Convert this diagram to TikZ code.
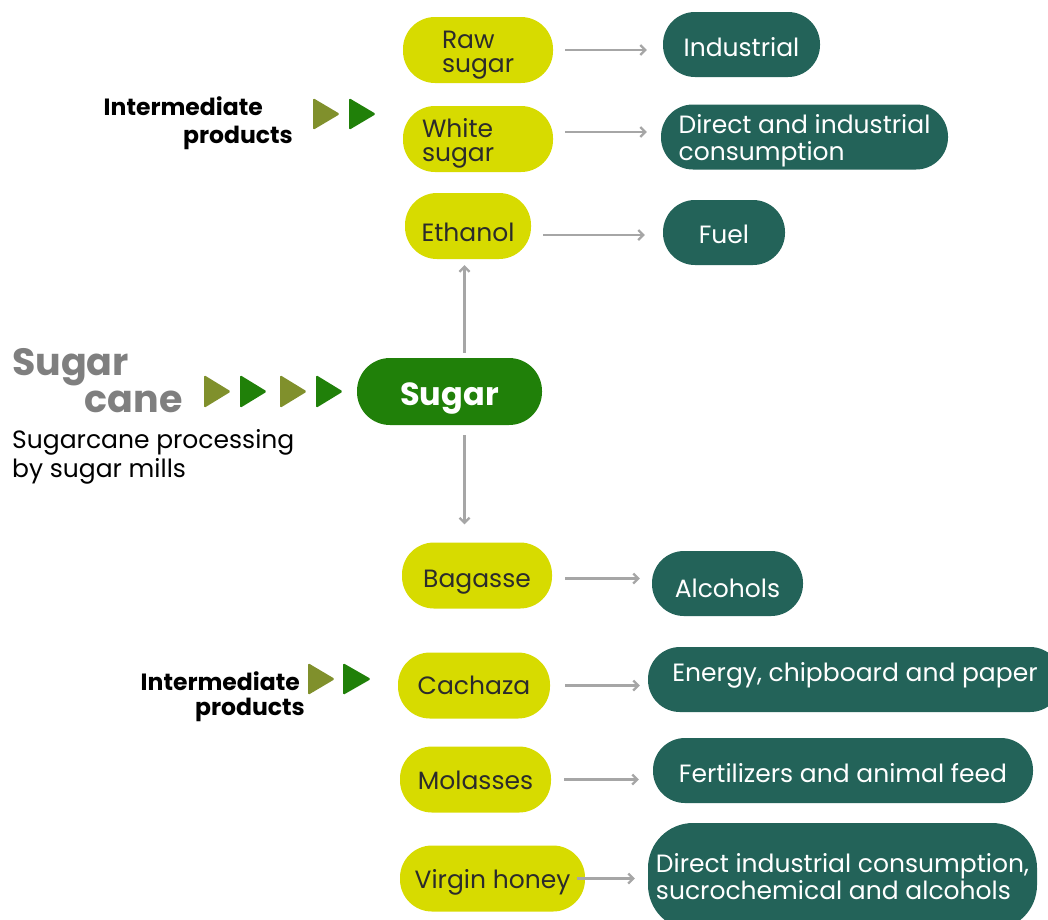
\documentclass[tikz,border=0pt]{standalone}
\usepackage{fontspec}
\setmainfont{Poppins}
\usetikzlibrary{arrows.meta}

\definecolor{prodyellow}{HTML}{D7DB00}
\definecolor{useteal}{HTML}{236359}
\definecolor{sugargreen}{HTML}{208009}
\definecolor{triolive}{HTML}{80902C}
\definecolor{canegray}{HTML}{7F7F7F}
\definecolor{linegray}{HTML}{A6A6A6}
\definecolor{textdark}{HTML}{2B2B2B}

\begin{document}
\begin{tikzpicture}[x=1pt,y=-1pt,
	prod/.style={rectangle, rounded corners=32pt, fill=prodyellow, text=textdark,
		minimum height=66pt, inner sep=0pt, align=left,
		font=\fontsize{25}{24}\selectfont},
	use/.style={rectangle, rounded corners=32pt, fill=useteal, text=white,
		minimum height=65pt, inner sep=0pt, align=left,
		font=\fontsize{25}{27}\selectfont},
	capline/.style={text height=#1, text depth=0pt},
	link/.style={draw=linegray, line width=2.2pt,
		-{Straight Barb[length=5pt,width=10pt]},
		shorten <=13pt, shorten >=14pt},
	label/.style={inner sep=0pt, text=black, font=\bfseries\fontsize{23.5}{23.5}\selectfont}]
	
	% Fix the frame of the picture
	\useasboundingbox (0,0) rectangle (1048,919);
	\clip (0,0) rectangle (1048,919);
	
	% Sugar cane on the left
	\node[anchor=base west, inner sep=0pt, text=canegray,
		font=\bfseries\fontsize{38}{38}\selectfont] (sugarword) at (12,375) {Sugar};
	\node[anchor=base east, inner sep=0pt, text=canegray,
		font=\bfseries\fontsize{38}{38}\selectfont] (caneword) at (183,412) {cane};
	\node[anchor=north west, inner sep=0pt, align=left,
		font=\fontsize{25}{29}\selectfont] (mills) at (12,429) {Sugarcane processing\\by sugar mills};
	
	% Triangles towards the sugar mill
	\fill[triolive, rounded corners=1.5pt] (204,375) -- (231,391.5) -- (204,408) -- cycle;
	\fill[sugargreen, rounded corners=1.5pt] (240,375) -- (267,391.5) -- (240,408) -- cycle;
	\fill[triolive, rounded corners=1.5pt] (280,375) -- (307,391.5) -- (280,408) -- cycle;
	\fill[sugargreen, rounded corners=1.5pt] (316,375) -- (343,391.5) -- (316,408) -- cycle;
	
	% Central node
	\node[rectangle, rounded corners=33pt, fill=sugargreen, text=white,
		minimum width=185pt, minimum height=67pt, inner sep=0pt, capline=27pt,
		font=\bfseries\fontsize{32}{32}\selectfont] (sugar) at (449.5,391.5) {Sugar};
	
	% Intermediate products, upper group
	\node[label, anchor=base east] (inter1) at (263,115) {Intermediate};
	\node[label, anchor=base east] (prods1) at (293,143) {products};
	\fill[triolive, rounded corners=1.5pt] (313,98) -- (340,114) -- (313,130) -- cycle;
	\fill[sugargreen, rounded corners=1.5pt] (349,98) -- (376,114) -- (349,130) -- cycle;
	
	% Intermediate products, lower group
	\node[label, anchor=base east] (inter2) at (300,690) {Intermediate};
	\node[label, anchor=base east] (prods2) at (305,715) {products};
	\fill[triolive, rounded corners=1.5pt] (308,663) -- (335,679) -- (308,695) -- cycle;
	\fill[sugargreen, rounded corners=1.5pt] (343,663) -- (371,679) -- (343,695) -- cycle;
	
	% Products of the mill
	\node[prod, minimum width=150pt, text width=72pt, text height=18pt, text depth=22pt] (raw) at (478,50) {Raw\\sugar};
	\node[prod, minimum width=150pt, text width=112pt, text height=18pt, text depth=22pt] (white) at (478,139) {White\\sugar};
	\node[prod, minimum width=126pt, capline=30pt] (eth) at (468,226) {Ethanol};
	\node[prod, minimum width=150pt, capline=23pt] (bag) at (477,575.5) {Bagasse};
	\node[prod, minimum width=152pt, capline=17pt] (cach) at (474,685.5) {Cachaza};
	\node[prod, minimum width=151pt, capline=19pt] (mol) at (475.5,779.5) {Molasses};
	\node[prod, minimum width=185pt, capline=19pt] (honey) at (492.5,878.5) {Virgin honey};
	
	% Their uses
	\node[use, minimum width=157pt, capline=23pt] (ind) at (741.5,44.5) {Industrial};
	\node[use, minimum width=287pt, text depth=-3pt] (direct) at (804.5,137) {Direct and industrial\\consumption};
	\node[use, minimum width=122pt, capline=21pt] (fuel) at (724,232.5) {Fuel};
	\node[use, minimum width=151pt, capline=27pt] (alc) at (727.5,583.5) {Alcohols};
	\node[use, minimum width=414pt, text height=18pt, text depth=15pt] (energy) at (855,679.5) {Energy, chipboard and paper};
	\node[use, minimum width=380pt, capline=23pt] (feed) at (843,770.5) {Fertilizers and animal feed};
	\node[use, minimum width=389pt, minimum height=107pt, rounded corners=45pt,
		font=\fontsize{25}{27}\selectfont] (dic) at (842.5,876.5) {Direct industrial consumption,\\sucrochemical and alcohols};
	
	% Arrows up and down from sugar
	\draw[link, shorten <=5pt, shorten >=6pt] ([xshift=15pt]sugar.north) -- ([xshift=15pt]sugar.north |- eth.south);
	\draw[link, shorten <=10pt, shorten >=18pt] ([xshift=15pt]sugar.south) -- ([xshift=15pt]sugar.south |- bag.north);
	
	% Arrows from products to uses
	\draw[link, shorten <=12pt, shorten >=16pt] (raw.east) -- (raw.east -| ind.west);
	\draw[link, shorten <=12pt] ([yshift=7pt]white.east) -- ([yshift=7pt]white.east -| direct.west);
	\draw[link, shorten <=12pt, shorten >=18pt] ([yshift=-9pt]eth.east) -- ([yshift=-9pt]eth.east -| fuel.west);
	\draw[link, shorten >=12pt] ([yshift=-3pt]bag.east) -- ([yshift=-3pt]bag.east -| alc.west);
	\draw[link, shorten <=15pt, shorten >=8pt] (cach.east) -- (cach.east -| energy.west);
	\draw[link] (mol.east) -- (mol.east -| feed.west);
	\draw[link, shorten <=-8pt, shorten >=13pt] (honey.east) -- (honey.east -| dic.west);
	
\end{tikzpicture}
\end{document}
